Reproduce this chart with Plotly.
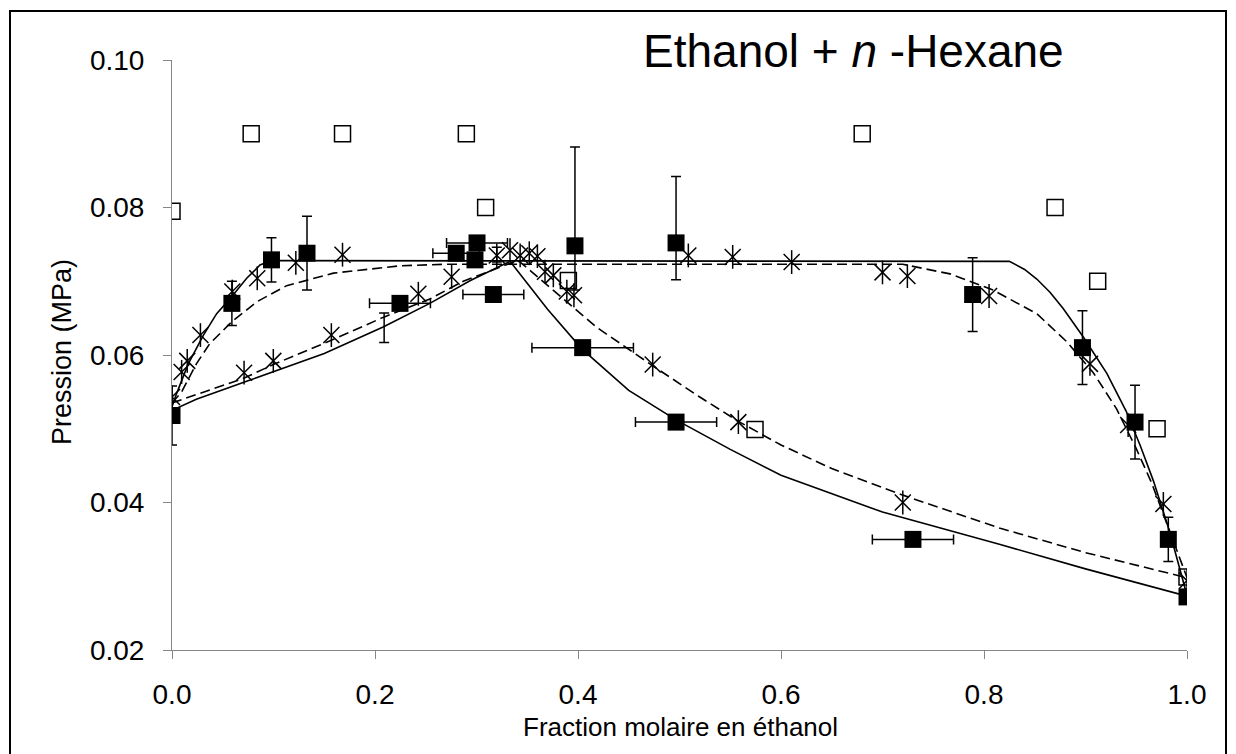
import plotly.graph_objects as go

# ---------------- data ----------------
# model curves (solid)
solid_up_x = [0.0, 0.0046, 0.016, 0.031, 0.044, 0.0588, 0.0736, 0.0867, 0.098, 0.11, 0.3, 0.5, 0.7, 0.825,
              0.84, 0.852, 0.865, 0.878, 0.898, 0.921, 0.94, 0.954, 0.967, 0.983, 1.0]
solid_up_y = [0.0530, 0.0548, 0.0588, 0.0627, 0.0656, 0.0679, 0.0704, 0.0722, 0.0728, 0.0728, 0.0728, 0.0728,
              0.0727, 0.0727, 0.0716, 0.0703, 0.0685, 0.0663, 0.0624, 0.0575, 0.0524, 0.0477, 0.0429, 0.0360, 0.0274]
solid_low_x = [0.0, 0.024, 0.077, 0.15, 0.208, 0.254, 0.294, 0.333, 0.37, 0.404, 0.45, 0.4966,
               0.55, 0.6, 0.7, 0.816, 0.9, 1.0]
solid_low_y = [0.0525, 0.0540, 0.0566, 0.0602, 0.0638, 0.0670, 0.0701, 0.0727, 0.0662, 0.0608, 0.0552,
               0.0512, 0.0472, 0.0437, 0.0387, 0.0343, 0.0310, 0.0273]
# model curves (dashed)
dash_up_x = [0.0, 0.0095, 0.024, 0.037, 0.0588, 0.0834, 0.113, 0.159, 0.2246, 0.27, 0.5, 0.72, 0.7665,
             0.809, 0.852, 0.8815, 0.9077, 0.9306, 0.95, 0.965, 0.98, 1.0]
dash_up_y = [0.0535, 0.0550, 0.0588, 0.0615, 0.0645, 0.0672, 0.0694, 0.0711, 0.0721, 0.0723, 0.0723, 0.0723,
             0.0710, 0.0688, 0.0656, 0.0618, 0.0576, 0.0527, 0.0473, 0.0427, 0.0372, 0.0298]
dash_low_x = [0.0, 0.07, 0.0998, 0.126, 0.157, 0.208, 0.254, 0.287, 0.34, 0.343, 0.38, 0.418, 0.474, 0.52,
              0.558, 0.6, 0.65, 0.72, 0.816, 0.9, 1.0]
dash_low_y = [0.0535, 0.0568, 0.0587, 0.0602, 0.0620, 0.0651, 0.0676, 0.0700, 0.0728, 0.0726, 0.0683,
              0.0638, 0.0585, 0.0543, 0.0510, 0.0478, 0.0446, 0.0410, 0.0365, 0.0332, 0.0298]

# experimental points, filled squares with uncertainties (plus / minus)
sq_x = [0.0, 0.059, 0.098, 0.133, 0.2246, 0.28, 0.3005, 0.2985, 0.3166, 0.397, 0.4046, 0.4966, 0.4966,
        0.73, 0.7888, 0.897, 0.9488, 0.9816, 1.0]
sq_y = [0.0518, 0.0670, 0.0729, 0.0738, 0.0670, 0.0738, 0.0752, 0.0729, 0.0682, 0.0748, 0.0610, 0.0752,
        0.0509, 0.0350, 0.0682, 0.0610, 0.0509, 0.0350, 0.0272]
sq_ex = [0, 0, 0, 0, 0.03, 0.023, 0.03, 0, 0.03, 0, 0.05, 0, 0.04, 0.04, 0, 0, 0, 0, 0]
sq_ey_plus = [0.004, 0.003, 0.003, 0.005, 0, 0, 0, 0, 0, 0.0134, 0, 0.009, 0, 0, 0.005, 0.005, 0.005, 0.003, 0]
sq_ey_minus = [0.004, 0.003, 0.003, 0.005, 0, 0, 0, 0, 0, 0.006, 0, 0.005, 0, 0, 0.005, 0.005, 0.005, 0.003, 0]

# error bars without visible marker
eb_x = [0.209, 0.32]
eb_y = [0.0637, 0.0736]
eb_ey = [0.002, 0.001]

# literature points (open squares)
open_x = [0.0, 0.078, 0.168, 0.29, 0.309, 0.3905, 0.5744, 0.68, 0.87, 0.912, 0.9705, 1.0]
open_y = [0.0795, 0.090, 0.090, 0.090, 0.080, 0.0701, 0.0499, 0.090, 0.080, 0.070, 0.050, 0.0299]

# literature points (asterisks)
ast_x = [0.0, 0.0095, 0.015, 0.028, 0.0594, 0.084, 0.122, 0.168,
         0.071, 0.0998, 0.157, 0.2427, 0.2755,
         0.32, 0.333, 0.343, 0.352, 0.36,
         0.3675, 0.3757, 0.389, 0.396, 0.4736, 0.558, 0.72, 1.0,
         0.5087, 0.5524, 0.6105, 0.70, 0.7245, 0.805, 0.9044, 0.942, 0.9767]
ast_y = [0.0543, 0.0577, 0.0592, 0.0627, 0.0686, 0.0704, 0.0725, 0.0736,
         0.0576, 0.0592, 0.0627, 0.0683, 0.0706,
         0.0735, 0.0742, 0.0735, 0.0738, 0.0734,
         0.0713, 0.0708, 0.0686, 0.0681, 0.0587, 0.0509, 0.0400, 0.0294,
         0.0735, 0.0733, 0.0726, 0.0712, 0.0707, 0.0680, 0.0588, 0.0505, 0.0398]

x_ticks = [0.0, 0.2, 0.4, 0.6, 0.8, 1.0]
y_ticks = [0.02, 0.04, 0.06, 0.08, 0.10]

FONT = "Liberation Sans, Arial, sans-serif"

fig = go.Figure()

line_solid = dict(color="black", width=1.6)
line_dash = dict(color="black", width=1.6, dash="10px,5px")
for xs, ys, ln in [(solid_up_x, solid_up_y, line_solid), (solid_low_x, solid_low_y, line_solid),
                   (dash_up_x, dash_up_y, line_dash), (dash_low_x, dash_low_y, line_dash)]:
    fig.add_trace(go.Scatter(x=xs, y=ys, mode="lines", line=ln, hoverinfo="skip", showlegend=False))

fig.add_trace(go.Scatter(x=open_x, y=open_y, mode="markers", showlegend=False,
                         marker=dict(symbol="square-open", size=16, color="black", line=dict(width=1.5))))

fig.add_trace(go.Scatter(x=ast_x, y=ast_y, mode="markers", showlegend=False,
                         marker=dict(symbol="x-thin-open", size=16, color="black",
                                     line=dict(width=1.5, color="black"))))
fig.add_trace(go.Scatter(x=ast_x, y=ast_y, mode="markers", showlegend=False,
                         marker=dict(symbol="line-ns-open", size=17, color="black",
                                     line=dict(width=1.5, color="black"))))

fig.add_trace(go.Scatter(x=eb_x, y=eb_y, mode="markers", showlegend=False,
                         marker=dict(size=1, color="rgba(0,0,0,0)"),
                         error_y=dict(type="data", array=eb_ey, visible=True, color="black",
                                      thickness=1.5, width=5)))

fig.add_trace(go.Scatter(x=sq_x, y=sq_y, mode="markers", showlegend=False,
                         marker=dict(symbol="square", size=17, color="black"),
                         error_x=dict(type="data", array=sq_ex, visible=True, color="black",
                                      thickness=1.5, width=5),
                         error_y=dict(type="data", symmetric=False, array=sq_ey_plus,
                                      arrayminus=sq_ey_minus, visible=True, color="black",
                                      thickness=1.5, width=5)))

L, R, T, B = 172, 49, 60, 104
W, H = 1236, 754
pw, ph = W - L - R, H - T - B

def px_x(p):
    return (p - L) / pw

def px_y(p):
    return (H - B - p) / ph

fig.update_layout(
    width=W, height=H,
    margin=dict(l=L, r=R, t=T, b=B, pad=0),
    paper_bgcolor="white", plot_bgcolor="white",
    font=dict(family=FONT, color="black", size=27),
    xaxis=dict(range=[0, 1], tickvals=x_ticks, ticktext=[f"{v:.1f}" for v in x_ticks],
               showgrid=False, zeroline=False, showline=True, linecolor="#868686", linewidth=1,
               ticks="outside", ticklen=8, tickcolor="#868686", tickwidth=1,
               tickfont=dict(size=28, family=FONT), ticklabelstandoff=11),
    yaxis=dict(range=[0.02, 0.10], tickvals=y_ticks, ticktext=[f"{v:.2f}" for v in y_ticks],
               showgrid=False, zeroline=False, showline=True, linecolor="#868686", linewidth=1,
               ticks="outside", ticklen=8, tickcolor="#868686", tickwidth=1,
               tickfont=dict(size=28, family=FONT), ticklabelstandoff=13),
    annotations=[
        dict(text="Ethanol + <i>n</i> -Hexane", xref="paper", yref="paper", x=px_x(641), y=px_y(51),
             xanchor="left", yanchor="middle", showarrow=False, font=dict(size=46, family=FONT)),
        dict(text="Pression (MPa)", xref="paper", yref="paper", x=px_x(62), y=px_y(352),
             xanchor="center", yanchor="middle", textangle=-90, showarrow=False,
             font=dict(size=27, family=FONT)),
        dict(text="Fraction molaire en éthanol", xref="paper", yref="paper", x=px_x(680), y=px_y(727),
             xanchor="center", yanchor="middle", showarrow=False, font=dict(size=26, family=FONT)),
    ],
    shapes=[dict(type="rect", xref="paper", yref="paper", x0=px_x(10), x1=px_x(1226),
                 y0=px_y(770), y1=px_y(11), line=dict(color="black", width=2), layer="above")],
)

fig.write_html("out.html")
